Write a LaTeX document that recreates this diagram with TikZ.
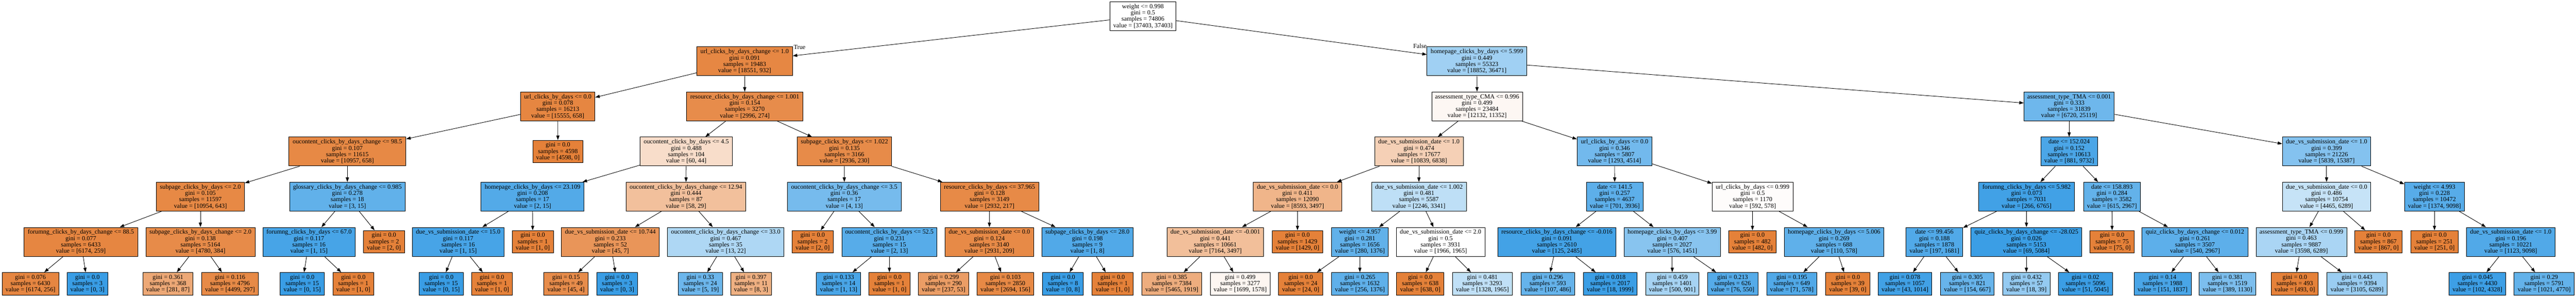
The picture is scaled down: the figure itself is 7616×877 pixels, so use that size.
\documentclass[tikz,border=0pt]{standalone}
\usepackage{fontspec}
\setmainfont{Liberation Serif}
\usetikzlibrary{arrows.meta}
\definecolor{orng}{RGB}{229,129,57}
\definecolor{blu}{RGB}{57,157,229}
\begin{document}
\begin{tikzpicture}[x=0.75pt,y=-0.75pt,
  tbox/.style={draw=black, line width=1pt, align=center, inner sep=0pt,
    font=\fontsize{14pt}{14pt}\selectfont, minimum height=64pt},
  leaf/.style={tbox, minimum height=50pt},
  bw/.style={minimum width=#1*0.75pt},
  tedge/.style={-{Triangle[length=10pt,width=7pt]}, line width=1pt},
  lbl/.style={font=\fontsize{14pt}{14pt}\selectfont, inner sep=0pt}]
\fill[white] (0,0) rectangle (7616,877);
\useasboundingbox (0,0) rectangle (7616,877);
% level 0
\node[tbox, bw=196, fill=white] (n0) at (3379,47.7) {weight <= 0.998\\gini = 0.5\\samples = 74806\\value = [37403, 37403]};
% level 1
\node[tbox, bw=283, fill=orng!95] (n1) at (2201.5,181) {url\_clicks\_by\_days\_change <= 1.0\\gini = 0.091\\samples = 19483\\value = [18551, 932]};
\node[tbox, bw=295, fill=blu!48] (n2) at (4366.5,181) {homepage\_clicks\_by\_days <= 5.999\\gini = 0.449\\samples = 55323\\value = [18852, 36471]};
% level 2
\node[tbox, bw=220, fill=orng!96] (n3) at (1649,314.3) {url\_clicks\_by\_days <= 0.0\\gini = 0.078\\samples = 16213\\value = [15555, 658]};
\node[tbox, bw=344, fill=orng!91] (n4) at (2202,314.3) {resource\_clicks\_by\_days\_change <= 1.001\\gini = 0.154\\samples = 3270\\value = [2996, 274]};
\node[tbox, bw=268, fill=orng!6] (n5) at (4367,314.3) {assessment\_type\_CMA <= 0.996\\gini = 0.499\\samples = 23484\\value = [12132, 11352]};
\node[tbox, bw=267, fill=blu!73] (n6) at (6117.5,314.3) {assessment\_type\_TMA <= 0.001\\gini = 0.333\\samples = 31839\\value = [6720, 25119]};
% level 3
\node[tbox, bw=346, fill=orng!94] (n7) at (1027,447.7) {oucontent\_clicks\_by\_days\_change <= 98.5\\gini = 0.107\\samples = 11615\\value = [10957, 658]};
\node[leaf, bw=149, fill=orng] (n8) at (1649.5,447.7) {gini = 0.0\\samples = 4598\\value = [4598, 0]};
\node[tbox, bw=272, fill=orng!27] (n9) at (2029,447.7) {oucontent\_clicks\_by\_days <= 4.5\\gini = 0.488\\samples = 104\\value = [60, 44]};
\node[tbox, bw=279, fill=orng!92] (n10) at (2496.5,447.7) {subpage\_clicks\_by\_days <= 1.022\\gini = 0.135\\samples = 3166\\value = [2936, 230]};
\node[tbox, bw=262, fill=orng!37] (n11) at (4195,447.7) {due\_vs\_submission\_date <= 1.0\\gini = 0.474\\samples = 17677\\value = [10839, 6838]};
\node[tbox, bw=221, fill=blu!71] (n12) at (4773.5,447.7) {url\_clicks\_by\_days <= 0.0\\gini = 0.346\\samples = 5807\\value = [1293, 4514]};
\node[tbox, bw=167, fill=blu!91] (n13) at (6117.5,447.7) {date <= 152.024\\gini = 0.152\\samples = 10613\\value = [881, 9732]};
\node[tbox, bw=261, fill=blu!62] (n14) at (6878.5,447.7) {due\_vs\_submission\_date <= 1.0\\gini = 0.399\\samples = 21226\\value = [5839, 15387]};
% level 4
\node[tbox, bw=261, fill=orng!94] (n15) at (592.5,581) {subpage\_clicks\_by\_days <= 2.0\\gini = 0.105\\samples = 11597\\value = [10954, 643]};
\node[tbox, bw=342, fill=blu!80] (n16) at (1027,581) {glossary\_clicks\_by\_days\_change <= 0.985\\gini = 0.278\\samples = 18\\value = [3, 15]};
\node[tbox, bw=305, fill=blu!87] (n17) at (1574.5,581) {homepage\_clicks\_by\_days <= 23.109\\gini = 0.208\\samples = 17\\value = [2, 15]};
\node[tbox, bw=354, fill=orng!50] (n18) at (2028,581) {oucontent\_clicks\_by\_days\_change <= 12.94\\gini = 0.444\\samples = 87\\value = [58, 29]};
\node[tbox, bw=336, fill=blu!69] (n19) at (2496,581) {oucontent\_clicks\_by\_days\_change <= 3.5\\gini = 0.36\\samples = 17\\value = [4, 13]};
\node[tbox, bw=291, fill=orng!93] (n20) at (2925.5,581) {resource\_clicks\_by\_days <= 37.965\\gini = 0.128\\samples = 3149\\value = [2932, 217]};
\node[tbox, bw=262, fill=orng!59] (n21) at (3836,581) {due\_vs\_submission\_date <= 0.0\\gini = 0.411\\samples = 12090\\value = [8593, 3497]};
\node[tbox, bw=280, fill=blu!33] (n22) at (4195,581) {due\_vs\_submission\_date <= 1.002\\gini = 0.481\\samples = 5587\\value = [2246, 3341]};
\node[tbox, bw=168, fill=blu!82] (n23) at (4774,581) {date <= 141.5\\gini = 0.257\\samples = 4637\\value = [701, 3936]};
\node[tbox, bw=239, fill=orng!2] (n24) at (5181.5,581) {url\_clicks\_by\_days <= 0.999\\gini = 0.5\\samples = 1170\\value = [592, 578]};
\node[tbox, bw=283, fill=blu!96] (n25) at (5991.5,581) {forumng\_clicks\_by\_days <= 5.982\\gini = 0.073\\samples = 7031\\value = [266, 6765]};
\node[tbox, bw=168, fill=blu!79] (n26) at (6244,581) {date <= 158.893\\gini = 0.284\\samples = 3582\\value = [615, 2967]};
\node[tbox, bw=261, fill=blu!29] (n27) at (6878.5,581) {due\_vs\_submission\_date <= 0.0\\gini = 0.486\\samples = 10754\\value = [4465, 6289]};
\node[tbox, bw=177, fill=blu!85] (n28) at (7197.5,581) {weight <= 4.993\\gini = 0.228\\samples = 10472\\value = [1374, 9098]};
% level 5
\node[tbox, bw=336, fill=orng!96] (n29) at (239,714.3) {forumng\_clicks\_by\_days\_change <= 88.5\\gini = 0.077\\samples = 6433\\value = [6174, 259]};
\node[tbox, bw=323, fill=orng!92] (n30) at (592.5,714.3) {subpage\_clicks\_by\_days\_change <= 2.0\\gini = 0.138\\samples = 5164\\value = [4780, 384]};
\node[tbox, bw=273, fill=blu!93] (n31) at (913.5,714.3) {forumng\_clicks\_by\_days <= 67.0\\gini = 0.117\\samples = 16\\value = [1, 15]};
\node[leaf, bw=122, fill=orng] (n32) at (1135,714.3) {gini = 0.0\\samples = 2\\value = [2, 0]};
\node[tbox, bw=271, fill=blu!93] (n33) at (1354.5,714.3) {due\_vs\_submission\_date <= 15.0\\gini = 0.117\\samples = 16\\value = [1, 15]};
\node[leaf, bw=122, fill=orng] (n34) at (1575,714.3) {gini = 0.0\\samples = 1\\value = [1, 0]};
\node[tbox, bw=289, fill=orng!84] (n35) at (1804.5,714.3) {due\_vs\_submission\_date <= 10.744\\gini = 0.233\\samples = 52\\value = [45, 7]};
\node[tbox, bw=345, fill=blu!41] (n36) at (2145.5,714.3) {oucontent\_clicks\_by\_days\_change <= 33.0\\gini = 0.467\\samples = 35\\value = [13, 22]};
\node[leaf, bw=121, fill=orng] (n37) at (2402.5,714.3) {gini = 0.0\\samples = 2\\value = [2, 0]};
\node[tbox, bw=281, fill=blu!85] (n38) at (2629.5,714.3) {oucontent\_clicks\_by\_days <= 52.5\\gini = 0.231\\samples = 15\\value = [2, 13]};
\node[tbox, bw=262, fill=orng!93] (n39) at (2925,714.3) {due\_vs\_submission\_date <= 0.0\\gini = 0.124\\samples = 3140\\value = [2931, 209]};
\node[tbox, bw=270, fill=blu!88] (n40) at (3215,714.3) {subpage\_clicks\_by\_days <= 28.0\\gini = 0.198\\samples = 9\\value = [1, 8]};
\node[tbox, bw=286, fill=orng!51] (n41) at (3593,714.3) {due\_vs\_submission\_date <= -0.001\\gini = 0.441\\samples = 10661\\value = [7164, 3497]};
\node[leaf, bw=150, fill=orng] (n42) at (3836,714.3) {gini = 0.0\\samples = 1429\\value = [1429, 0]};
\node[tbox, bw=167, fill=blu!80] (n43) at (4020.5,714.3) {weight <= 4.957\\gini = 0.281\\samples = 1656\\value = [280, 1376]};
\node[tbox, bw=262, fill=white] (n44) at (4259,714.3) {due\_vs\_submission\_date <= 2.0\\gini = 0.5\\samples = 3931\\value = [1966, 1965]};
\node[tbox, bw=350, fill=blu!95] (n45) at (4603,714.3) {resource\_clicks\_by\_days\_change <= -0.016\\gini = 0.091\\samples = 2610\\value = [125, 2485]};
\node[tbox, bw=286, fill=blu!60] (n46) at (4944,714.3) {homepage\_clicks\_by\_days <= 3.99\\gini = 0.407\\samples = 2027\\value = [576, 1451]};
\node[leaf, bw=140, fill=orng] (n47) at (5181,714.3) {gini = 0.0\\samples = 482\\value = [482, 0]};
\node[tbox, bw=295, fill=blu!81] (n48) at (5422.5,714.3) {homepage\_clicks\_by\_days <= 5.006\\gini = 0.269\\samples = 688\\value = [110, 578]};
\node[tbox, bw=168, fill=blu!88] (n49) at (5719,714.3) {date <= 99.456\\gini = 0.188\\samples = 1878\\value = [197, 1681]};
\node[tbox, bw=328, fill=blu!99] (n50) at (5991,714.3) {quiz\_clicks\_by\_days\_change <= -28.025\\gini = 0.026\\samples = 5153\\value = [69, 5084]};
\node[leaf, bw=131, fill=orng] (n51) at (6244.5,714.3) {gini = 0.0\\samples = 75\\value = [75, 0]};
\node[tbox, bw=313, fill=blu!82] (n52) at (6489.5,714.3) {quiz\_clicks\_by\_days\_change <= 0.012\\gini = 0.261\\samples = 3507\\value = [540, 2967]};
\node[tbox, bw=268, fill=blu!43] (n53) at (6804,714.3) {assessment\_type\_TMA <= 0.999\\gini = 0.463\\samples = 9887\\value = [3598, 6289]};
\node[leaf, bw=140, fill=orng] (n54) at (7032,714.3) {gini = 0.0\\samples = 867\\value = [867, 0]};
\node[leaf, bw=139, fill=orng] (n55) at (7197.5,714.3) {gini = 0.0\\samples = 251\\value = [251, 0]};
\node[tbox, bw=262, fill=blu!88] (n56) at (7423,714.3) {due\_vs\_submission\_date <= 1.0\\gini = 0.196\\samples = 10221\\value = [1123, 9098]};
% level 6
\node[leaf, bw=168, fill=orng!96] (l1) at (90,838.3) {gini = 0.076\\samples = 6430\\value = [6174, 256]};
\node[leaf, bw=121, fill=blu] (l2) at (258.5,838.3) {gini = 0.0\\samples = 3\\value = [0, 3]};
\node[leaf, bw=149, fill=orng!69] (l3) at (496.5,838.3) {gini = 0.361\\samples = 368\\value = [281, 87]};
\node[leaf, bw=168, fill=orng!93] (l4) at (680,838.3) {gini = 0.116\\samples = 4796\\value = [4499, 297]};
\node[leaf, bw=131, fill=blu] (l5) at (893.5,838.3) {gini = 0.0\\samples = 15\\value = [0, 15]};
\node[leaf, bw=121, fill=orng] (l6) at (1044.5,838.3) {gini = 0.0\\samples = 1\\value = [1, 0]};
\node[leaf, bw=131, fill=blu] (l7) at (1304.5,838.3) {gini = 0.0\\samples = 15\\value = [0, 15]};
\node[leaf, bw=121, fill=orng] (l8) at (1454.5,838.3) {gini = 0.0\\samples = 1\\value = [1, 0]};
\node[leaf, bw=131, fill=orng!91] (l9) at (1673.5,838.3) {gini = 0.15\\samples = 49\\value = [45, 4]};
\node[leaf, bw=121, fill=blu] (l10) at (1824.5,838.3) {gini = 0.0\\samples = 3\\value = [0, 3]};
\node[leaf, bw=131, fill=blu!74] (l11) at (2070.5,838.3) {gini = 0.33\\samples = 24\\value = [5, 19]};
\node[leaf, bw=121, fill=orng!63] (l12) at (2220.5,838.3) {gini = 0.397\\samples = 11\\value = [8, 3]};
\node[leaf, bw=131, fill=blu!92] (l13) at (2479.5,838.3) {gini = 0.133\\samples = 14\\value = [1, 13]};
\node[leaf, bw=121, fill=orng] (l14) at (2629.5,838.3) {gini = 0.0\\samples = 1\\value = [1, 0]};
\node[leaf, bw=149, fill=orng!78] (l15) at (2789.5,838.3) {gini = 0.299\\samples = 290\\value = [237, 53]};
\node[leaf, bw=167, fill=orng!94] (l16) at (2972.5,838.3) {gini = 0.103\\samples = 2850\\value = [2694, 156]};
\node[leaf, bw=121, fill=blu] (l17) at (3142.5,838.3) {gini = 0.0\\samples = 8\\value = [0, 8]};
\node[leaf, bw=121, fill=orng] (l18) at (3289.5,838.3) {gini = 0.0\\samples = 1\\value = [1, 0]};
\node[leaf, bw=177, fill=orng!65] (l19) at (3464.5,838.3) {gini = 0.385\\samples = 7384\\value = [5465, 1919]};
\node[leaf, bw=177, fill=orng!7] (l20) at (3666.5,838.3) {gini = 0.499\\samples = 3277\\value = [1699, 1578]};
\node[leaf, bw=131, fill=orng] (l21) at (3845.5,838.3) {gini = 0.0\\samples = 24\\value = [24, 0]};
\node[leaf, bw=167, fill=blu!81] (l22) at (4020.5,838.3) {gini = 0.265\\samples = 1632\\value = [256, 1376]};
\node[leaf, bw=140, fill=orng] (l23) at (4199,838.3) {gini = 0.0\\samples = 638\\value = [638, 0]};
\node[leaf, bw=177, fill=blu!32] (l24) at (4382.5,838.3) {gini = 0.481\\samples = 3293\\value = [1328, 1965]};
\node[leaf, bw=158, fill=blu!78] (l25) at (4576,838.3) {gini = 0.296\\samples = 593\\value = [107, 486]};
\node[leaf, bw=159, fill=blu!99] (l26) at (4760.5,838.3) {gini = 0.018\\samples = 2017\\value = [18, 1999]};
\node[leaf, bw=158, fill=blu!45] (l27) at (4944,838.3) {gini = 0.459\\samples = 1401\\value = [500, 901]};
\node[leaf, bw=149, fill=blu!86] (l28) at (5122.5,838.3) {gini = 0.213\\samples = 626\\value = [76, 550]};
\node[leaf, bw=149, fill=blu!88] (l29) at (5297.5,838.3) {gini = 0.195\\samples = 649\\value = [71, 578]};
\node[leaf, bw=130, fill=orng] (l30) at (5463,838.3) {gini = 0.0\\samples = 39\\value = [39, 0]};
\node[leaf, bw=158, fill=blu!96] (l31) at (5632,838.3) {gini = 0.078\\samples = 1057\\value = [43, 1014]};
\node[leaf, bw=159, fill=blu!77] (l32) at (5816.5,838.3) {gini = 0.305\\samples = 821\\value = [154, 667]};
\node[leaf, bw=140, fill=blu!54] (l33) at (5991,838.3) {gini = 0.432\\samples = 57\\value = [18, 39]};
\node[leaf, bw=159, fill=blu!99] (l34) at (6165.5,838.3) {gini = 0.02\\samples = 5096\\value = [51, 5045]};
\node[leaf, bw=169, fill=blu!92] (l35) at (6393.5,838.3) {gini = 0.14\\samples = 1988\\value = [151, 1837]};
\node[leaf, bw=167, fill=blu!66] (l36) at (6585.5,838.3) {gini = 0.381\\samples = 1519\\value = [389, 1130]};
\node[leaf, bw=139, fill=orng] (l37) at (6784.5,838.3) {gini = 0.0\\samples = 493\\value = [493, 0]};
\node[leaf, bw=177, fill=blu!51] (l38) at (6968.5,838.3) {gini = 0.443\\samples = 9394\\value = [3105, 6289]};
\node[leaf, bw=167, fill=blu!98] (l39) at (7324.5,838.3) {gini = 0.045\\samples = 4430\\value = [102, 4328]};
\node[leaf, bw=178, fill=blu!79] (l40) at (7522,838.3) {gini = 0.29\\samples = 5791\\value = [1021, 4770]};
% edge labels
\node[lbl] (tlab) at (2364,139) {True};
\node[lbl] (flab) at (4198,136) {False};
% edges
\foreach \a/\b in {n0/n1,n0/n2,n1/n3,n1/n4,n2/n5,n2/n6,n3/n7,n3/n8,n4/n9,n4/n10,
  n5/n11,n5/n12,n6/n13,n6/n14,n7/n15,n7/n16,n9/n17,n9/n18,n10/n19,n10/n20,
  n11/n21,n11/n22,n12/n23,n12/n24,n13/n25,n13/n26,n14/n27,n14/n28,
  n15/n29,n15/n30,n16/n31,n16/n32,n17/n33,n17/n34,n18/n35,n18/n36,n19/n37,n19/n38,
  n20/n39,n20/n40,n21/n41,n21/n42,n22/n43,n22/n44,n23/n45,n23/n46,n24/n47,n24/n48,
  n25/n49,n25/n50,n26/n51,n26/n52,n27/n53,n27/n54,n28/n55,n28/n56,
  n29/l1,n29/l2,n30/l3,n30/l4,n31/l5,n31/l6,n33/l7,n33/l8,n35/l9,n35/l10,
  n36/l11,n36/l12,n38/l13,n38/l14,n39/l15,n39/l16,n40/l17,n40/l18,n41/l19,n41/l20,
  n43/l21,n43/l22,n44/l23,n44/l24,n45/l25,n45/l26,n46/l27,n46/l28,n48/l29,n48/l30,
  n49/l31,n49/l32,n50/l33,n50/l34,n52/l35,n52/l36,n53/l37,n53/l38,n56/l39,n56/l40}
  \draw[tedge] (\a) -- (\b);
\end{tikzpicture}
\end{document}
